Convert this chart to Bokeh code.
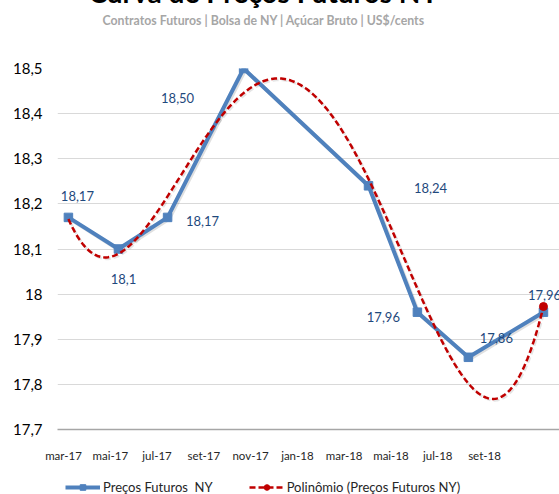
import numpy as np
from bokeh.plotting import figure
from bokeh.layouts import column
from bokeh.models import (ColumnDataSource, FixedTicker, Legend, LegendItem,
                          Range1d, LabelSet, Title)
from bokeh.core.properties import value
from bokeh.embed import file_html
from bokeh.resources import INLINE

# ---- data ----
contract_month = [0.21, 2.35, 4.45, 7.70, 13.04, 15.13, 17.31, 20.52]
price = [18.17, 18.10, 18.17, 18.50, 18.24, 17.96, 17.86, 17.96]
price_labels = ["18,17", "18,1", "18,17", "18,50", "18,24", "17,96", "17,86", "17,96"]
tick_months = [0, 2, 4, 6, 8, 10, 12, 14, 16, 18]
tick_labels = ["mar-17", "mai-17", "jul-17", "set-17", "nov-17", "jan-18",
               "mar-18", "mai-18", "jul-18", "set-18"]
y_ticks = [17.7, 17.8, 17.9, 18.0, 18.1, 18.2, 18.3, 18.4, 18.5]
y_tick_labels = ["17,7", "17,8", "17,9", "18", "18,1", "18,2", "18,3", "18,4", "18,5"]
title_text = "Curva de Preços Futuros NY"
subtitle_text = "Contratos Futuros | Bolsa de NY | Açúcar Bruto | US$/cents"
series_name = "Preços Futuros  NY"
trend_name = "Polinômio (Preços Futuros NY)"
trend_degree = 4

lab_dx = [9, 5, 35, -66, 62, -34, 28, 1]
lab_dy = [21, -30, -4, -29, -2, -5, 19, 17]

SHIFT = 28
W = 559
FL, FT = 57, 68 + SHIFT
FRAME_W, FRAME_H = 502, 361
BOTTOM = 33
H = FT + FRAME_H + BOTTOM
LEG_H = 46
px_per_month = 23.39
x0 = -(63 - FL) / px_per_month
x1 = x0 + FRAME_W / px_per_month
y0, y1 = 17.7, 18.5
px_per_unit = FRAME_H / (y1 - y0)

FONT = "Lato"
BLUE = "#4f81bd"
RED = "#c00000"
LABEL_BLUE = "#1f497d"

p = figure(width=W, height=H,
           frame_width=FRAME_W, frame_height=FRAME_H, output_backend="svg",
           toolbar_location=None,
           x_range=Range1d(x0, x1), y_range=Range1d(y0, y1),
           min_border_left=FL, min_border_right=0, min_border_top=FT,
           min_border_bottom=BOTTOM)
p.outline_line_color = None

p.xaxis.ticker = FixedTicker(ticks=tick_months)
p.xaxis.major_label_overrides = {m: l for m, l in zip(tick_months, tick_labels)}
p.xaxis.major_label_text_font = FONT
p.xaxis.major_label_text_font_size = "11.5px"
p.xaxis.major_label_text_color = "#262626"
p.xaxis.major_label_standoff = 19
p.xaxis.major_tick_out = 0
p.xaxis.minor_tick_out = 0
p.xaxis.axis_line_color = "#a6a6a6"
p.xaxis.axis_line_width = 1.5
p.xaxis.major_tick_line_color = None
p.xaxis.minor_tick_line_color = None

p.yaxis.ticker = FixedTicker(ticks=y_ticks)
p.yaxis.major_label_overrides = {t: l for t, l in zip(y_ticks, y_tick_labels)}
p.yaxis.major_label_text_font = FONT
p.yaxis.major_label_text_font_size = "15px"
p.yaxis.major_label_text_color = "#000000"
p.yaxis.major_label_standoff = 15
p.yaxis.major_tick_out = 0
p.yaxis.minor_tick_out = 0
p.yaxis.axis_line_color = None
p.yaxis.major_tick_line_color = None
p.yaxis.minor_tick_line_color = None

p.xgrid.grid_line_color = None
p.ygrid.grid_line_color = "#d9d9d9"
p.ygrid.grid_line_width = 1.2

# polynomial trendline fitted to the series (as the spreadsheet trendline)
xm = np.array(contract_month)
yp = np.array(price)
xs = np.linspace(xm[0], xm[-1], 300)
ys = np.polyval(np.polyfit(xm, yp, trend_degree), xs)

# soft shadows
sdx, sdy = 1.5 / px_per_month, -1.5 / px_per_unit
p.line(xm + sdx, yp + sdy, line_color="#000000", line_alpha=0.12, line_width=4)
p.line(xs + sdx, ys + sdy, line_color="#000000", line_alpha=0.10, line_width=2.5,
       line_dash="6 3")

src = ColumnDataSource(dict(x=contract_month, y=price, lab=price_labels,
                            dx=lab_dx, dy=lab_dy))
trend_src = ColumnDataSource(dict(x=xs, y=ys))
end_src = ColumnDataSource(dict(x=[xs[-1]], y=[ys[-1]]))
p.line("x", "y", source=src, line_color=BLUE, line_width=4)
p.scatter("x", "y", source=src, marker="square", size=8.5, fill_color=BLUE,
          line_color=BLUE)
p.line("x", "y", source=trend_src, line_color=RED, line_width=2.5, line_dash="6 3")
p.scatter("x", "y", source=end_src, marker="circle", size=8, fill_color=RED,
          line_color=RED)

labels = LabelSet(x="x", y="y", text="lab", source=src, x_offset="dx", y_offset="dy",
                  text_font=value(FONT), text_font_size="13px", text_color=LABEL_BLUE,
                  text_align="center", text_baseline="middle")
p.add_layout(labels)

# above panels: spacer, subtitle, title (stacked outward from the frame)
p.add_layout(Title(text=" ", text_font_size="10px", standoff=24), "above")
p.add_layout(Title(text=subtitle_text, align="left", offset=45, standoff=6,
                   text_font=FONT, text_font_size="12.3px", text_font_style="bold",
                   text_color="#a6a6a6", vertical_align="middle"), "above")
p.add_layout(Title(text=title_text, align="left", offset=31, standoff=0,
                   text_font=FONT, text_font_size="28px", text_font_style="bold",
                   text_color="#000000", vertical_align="bottom"), "above")

# legend strip (own small figure below the chart; its renderers fall outside its range)
q = figure(width=W, height=LEG_H, output_backend="svg", toolbar_location=None,
           x_axis_location=None, y_axis_location=None,
           x_range=Range1d(0, 1), y_range=Range1d(0, 1), min_border=0)
q.outline_line_color = None
q.grid.visible = False
lg_line = q.line("x", "y", source=src, line_color=BLUE, line_width=4)
lg_mark = q.scatter("x", "y", source=src, marker="square", size=8.5, fill_color=BLUE,
                    line_color=BLUE)
lg_trend = q.line("x", "y", source=trend_src, line_color=RED, line_width=2.5,
                  line_dash="6 3")
lg_dot = q.scatter("x", "y", source=end_src, marker="circle", size=8, fill_color=RED,
                   line_color=RED)
legend = Legend(items=[LegendItem(label=series_name, renderers=[lg_line, lg_mark]),
                       LegendItem(label=trend_name, renderers=[lg_trend, lg_dot])],
                orientation="horizontal", location="center_left",
                glyph_width=35, glyph_height=14, label_standoff=3, spacing=36,
                padding=0, margin=8, border_line_color=None,
                background_fill_alpha=0,
                label_text_font=FONT, label_text_font_size="13px",
                label_text_color="#262626")
q.add_layout(legend, "center")

page = column(p, q, spacing=0)
page.styles = {"margin-top": f"-{SHIFT}px",
               "margin-bottom": f"-{max(0, H + LEG_H - SHIFT - 494)}px"}

open("out.html", "w").write(file_html(page, INLINE))
